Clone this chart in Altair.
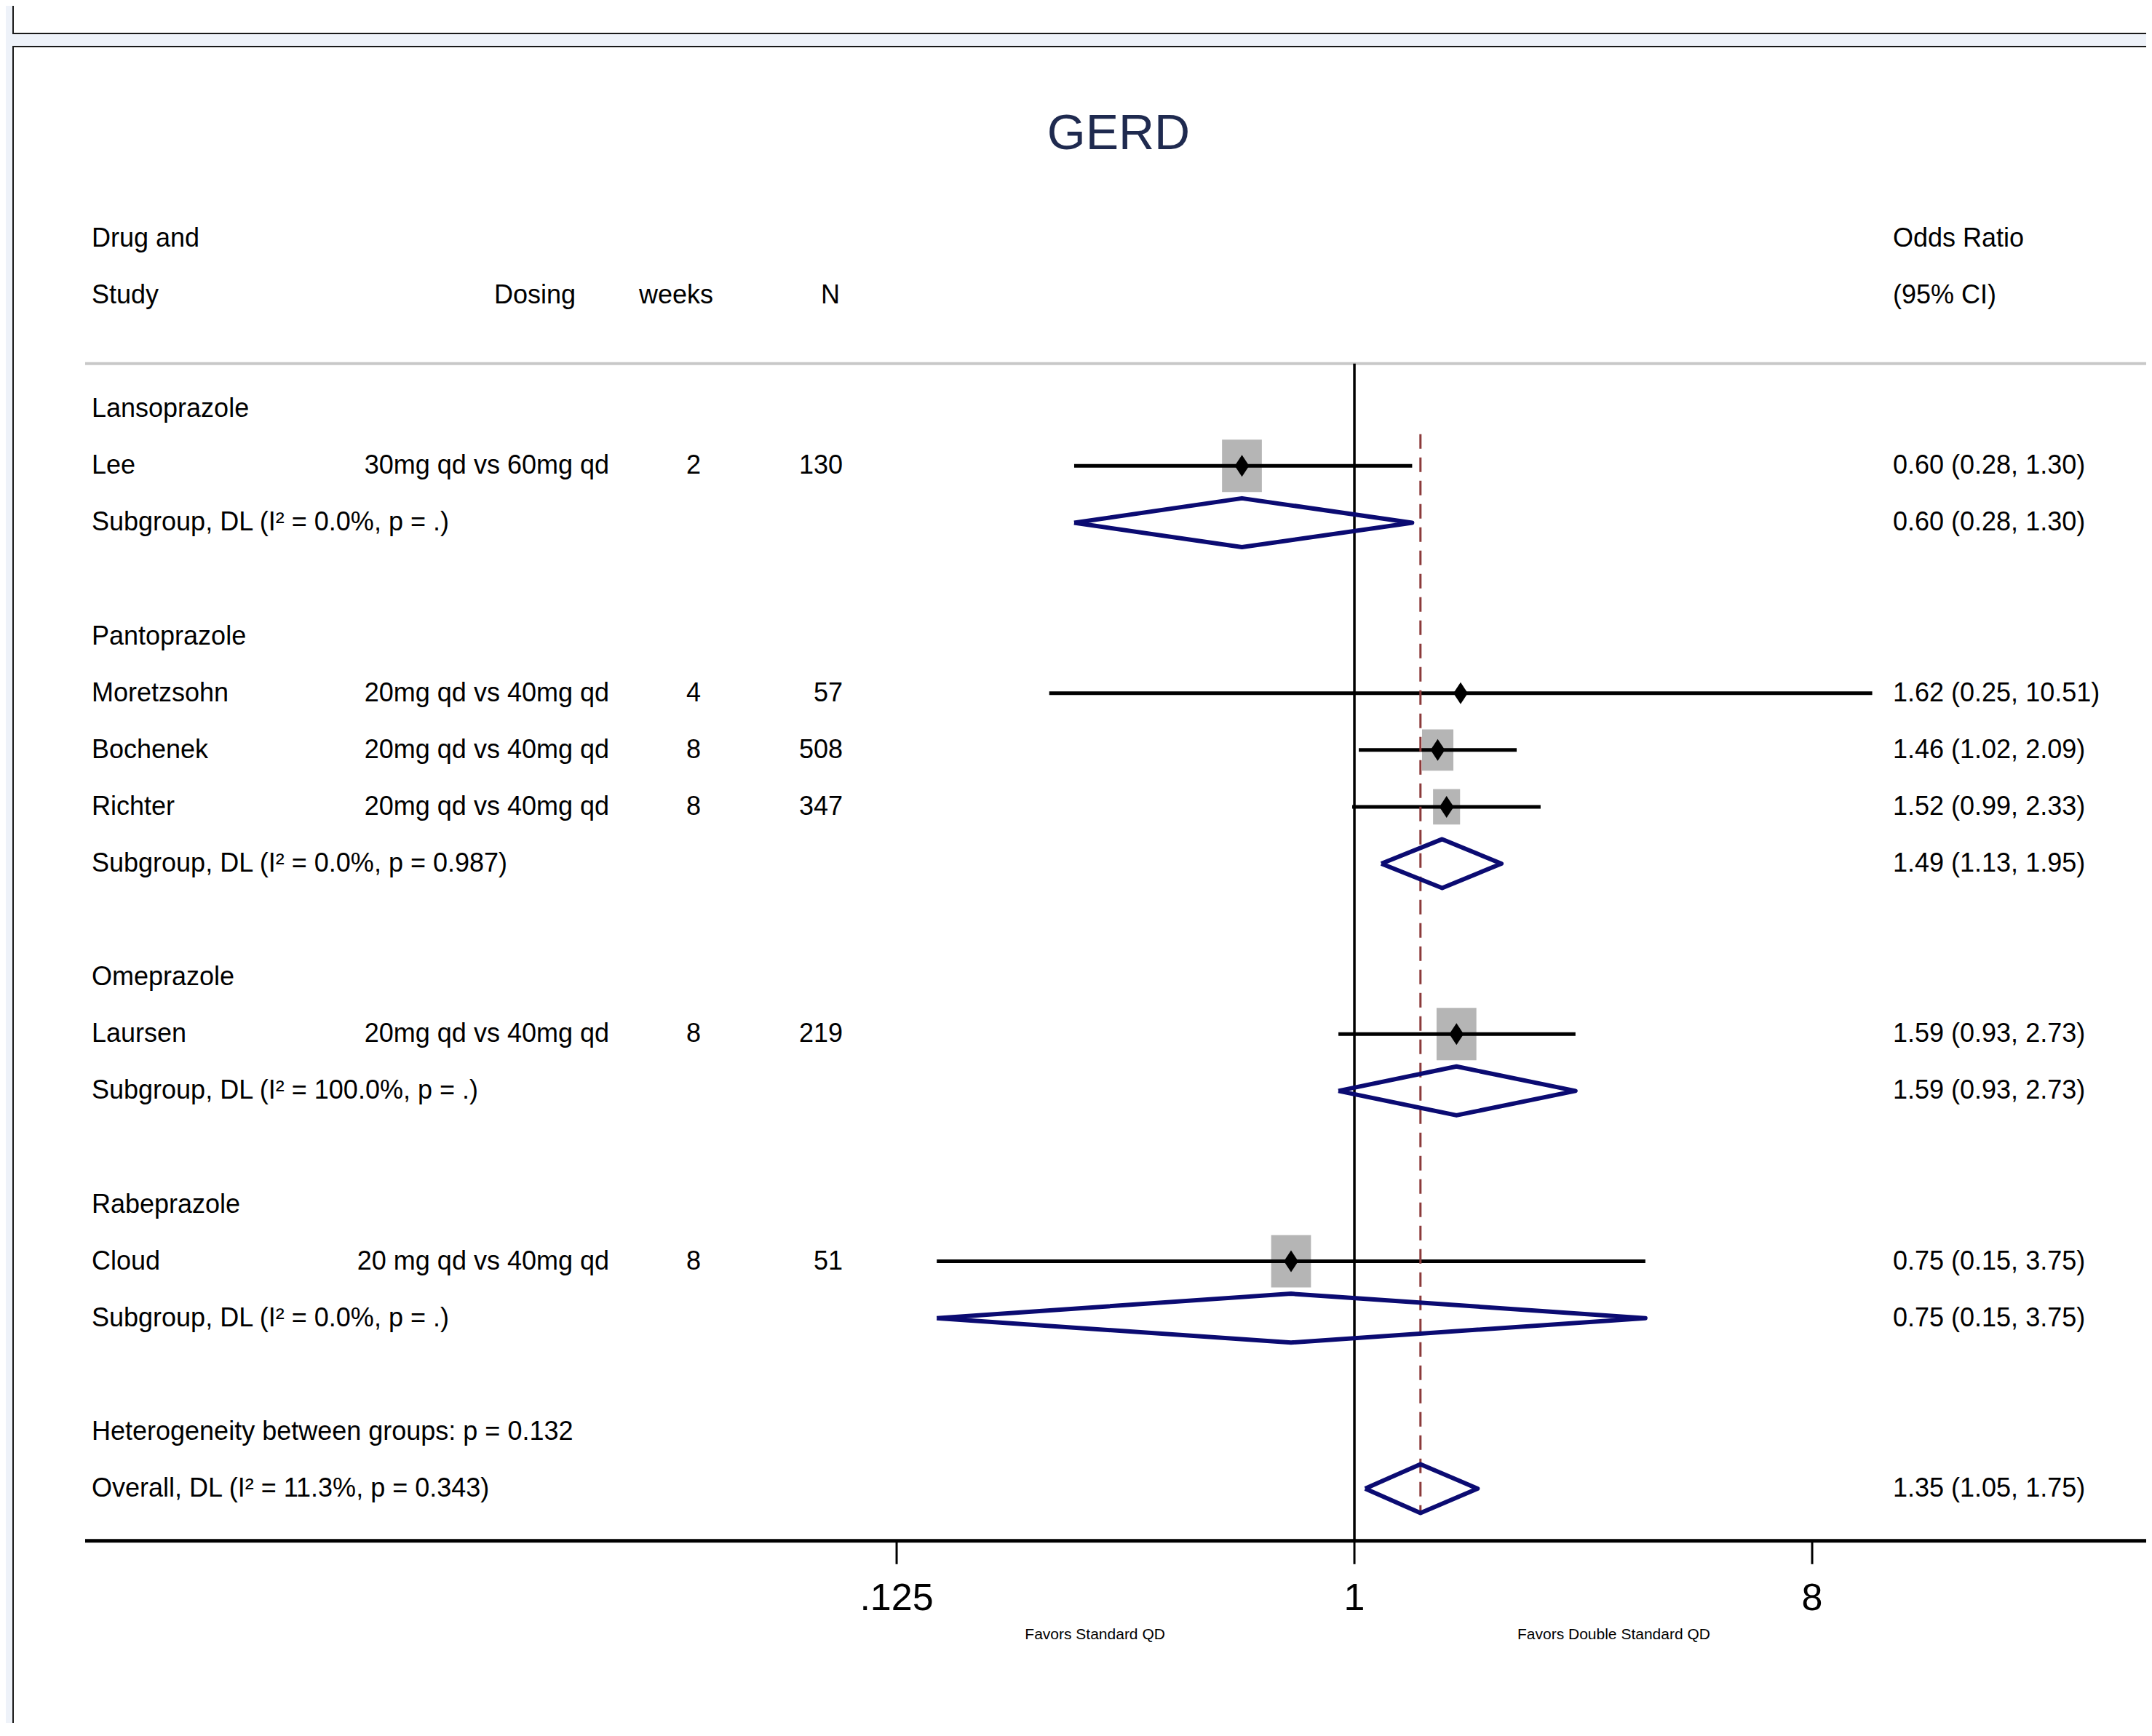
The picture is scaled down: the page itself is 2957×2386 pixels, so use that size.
import altair as alt
import pandas as pd
import numpy as np

# ---------------- data ----------------
groups = ["Lansoprazole", "Pantoprazole", "Omeprazole", "Rabeprazole"]
study_names = ["Lee", "Moretzsohn", "Bochenek", "Richter", "Laursen", "Cloud"]
study_group = [0, 1, 1, 1, 2, 3]
dosing = ["30mg qd vs 60mg qd", "20mg qd vs 40mg qd", "20mg qd vs 40mg qd",
          "20mg qd vs 40mg qd", "20mg qd vs 40mg qd", "20 mg qd vs 40mg qd"]
weeks = [2, 4, 8, 8, 8, 8]
n_pat = [130, 57, 508, 347, 219, 51]
or_est = [0.60, 1.62, 1.46, 1.52, 1.59, 0.75]
or_lo = [0.28, 0.25, 1.02, 0.99, 0.93, 0.15]
or_hi = [1.30, 10.51, 2.09, 2.33, 2.73, 3.75]
box_weight = [100, 2, 62, 46, 100, 100]

sub_est = [0.60, 1.49, 1.59, 0.75]
sub_lo = [0.28, 1.13, 0.93, 0.15]
sub_hi = [1.30, 1.95, 2.73, 3.75]
sub_i2 = ["0.0%", "0.0%", "100.0%", "0.0%"]
sub_p = [".", "0.987", ".", "."]

overall_est, overall_lo, overall_hi = 1.35, 1.05, 1.75
overall_i2, overall_p = "11.3%", "0.343"
het_p = "0.132"

tick_values = [0.125, 1, 8]
tick_labels = [".125", "1", "8"]
favors_labels = ["Favors Standard QD", "Favors Double Standard QD"]

title_text = "GERD"
header_top = ["Drug and", "Odds Ratio"]
header_bottom = ["Study", "Dosing", "weeks", "N", "(95% CI)"]

# ---------------- layout constants ----------------
W, H = 2941, 2360
FONT = "Liberation Sans, Arial, Helvetica, sans-serif"
FS = 36
NAVY = "#0b0b72"
xs = alt.Scale(domain=[-8.838, 5.189], nice=False, zero=False)
ys = alt.Scale(domain=[-4.098, 26.124], nice=False, zero=False, reverse=True)
HEADER_LINE_ROW = 2.2
AXIS_ROW = 22.92
TICK_END_ROW = 23.33
TICK_LABEL_ROW = 23.93
FAVOR_ROW = 24.57
FAVOR_OFFSET = 1.7
DIA_H = 0.43

# ---------------- row assignment ----------------
r = 3
group_rows, study_rows, sub_rows = [], [None] * len(study_names), []
for g in range(len(groups)):
    group_rows.append(r); r += 1
    for i, sg in enumerate(study_group):
        if sg == g:
            study_rows[i] = r; r += 1
    sub_rows.append(r); r += 1
    r += 1
het_row, overall_row = r, r + 1

fmt = lambda e, l, h: f"{e:.2f} ({l:.2f}, {h:.2f})"

studies = pd.DataFrame({
    "row": study_rows, "name": study_names, "dosing": dosing,
    "weeks": [str(w) for w in weeks], "n": [str(v) for v in n_pat],
    "l2": np.log2(or_est), "lo2": np.log2(or_lo), "hi2": np.log2(or_hi),
    "w": box_weight,
    "ci": [fmt(e, l, h) for e, l, h in zip(or_est, or_lo, or_hi)],
})

left_text = pd.DataFrame({
    "row": [0, 1] + group_rows + study_rows + sub_rows + [het_row, overall_row],
    "text": [header_top[0], header_bottom[0]] + groups + study_names
            + [f"Subgroup, DL (I\u00b2 = {i2}, p = {p})" for i2, p in zip(sub_i2, sub_p)]
            + [f"Heterogeneity between groups: p = {het_p}",
               f"Overall, DL (I\u00b2 = {overall_i2}, p = {overall_p})"],
})

right_text = pd.DataFrame({
    "row": [0, 1] + study_rows + sub_rows + [overall_row],
    "text": [header_top[1], header_bottom[4]] + list(studies["ci"])
            + [fmt(e, l, h) for e, l, h in zip(sub_est, sub_lo, sub_hi)]
            + [fmt(overall_est, overall_lo, overall_hi)],
})

# diamonds (subgroups + overall)
d_est = sub_est + [overall_est]
d_lo = sub_lo + [overall_lo]
d_hi = sub_hi + [overall_hi]
d_row = sub_rows + [overall_row]
recs = []
for k, (e, l, h, rr) in enumerate(zip(d_est, d_lo, d_hi, d_row)):
    pts = [(np.log2(l), rr), (np.log2(e), rr - DIA_H), (np.log2(h), rr),
           (np.log2(e), rr + DIA_H), (np.log2(l), rr)]
    for j, (px, py) in enumerate(pts):
        recs.append({"id": k, "k": j, "x": px, "row": py})
diamonds = pd.DataFrame(recs)

ticks = pd.DataFrame({"l2": np.log2(tick_values), "text": tick_labels,
                      "row": AXIS_ROW, "row2": TICK_END_ROW, "lrow": TICK_LABEL_ROW})
favors = pd.DataFrame({"l2": [-FAVOR_OFFSET, FAVOR_OFFSET], "text": favors_labels,
                       "row": FAVOR_ROW})

one = pd.DataFrame({"a": [0]})

# ---------------- frame (window chrome) ----------------
LIGHT = "#eef2f9"
DARK = "#1a1a1a"
def frame_rect(x1, x2, y1, y2, color):
    return alt.Chart(one).mark_rect(color=color, opacity=1).encode(
        x=alt.value(x1), x2=alt.value(x2), y=alt.value(y1), y2=alt.value(y2))

frame = [
    frame_rect(0, 9, 0, H, LIGHT),
    frame_rect(0, W, 39, 55, LIGHT),
    frame_rect(9, W, 37, 39, DARK),
    frame_rect(9, W, 55, 57, DARK),
    frame_rect(9, 11, 0, 37, DARK),
    frame_rect(9, 11, 57, H, DARK),
]

# ---------------- plot layers ----------------
hline = pd.DataFrame({"row": [HEADER_LINE_ROW, AXIS_ROW]})
header_line = alt.Chart(hline.iloc[[0]]).mark_rule(color="#c8c8c8", strokeWidth=4).encode(
    x=alt.value(109), x2=alt.value(W), y=alt.Y("row:Q", scale=ys, axis=None))
axis_line = alt.Chart(hline.iloc[[1]]).mark_rule(color="black", strokeWidth=5).encode(
    x=alt.value(109), x2=alt.value(W), y=alt.Y("row:Q", scale=ys, axis=None))

null_line = alt.Chart(pd.DataFrame({"l2": [0.0], "r1": [HEADER_LINE_ROW], "r2": [AXIS_ROW]})).mark_rule(
    color="black", strokeWidth=3.5).encode(
    x=alt.X("l2:Q", scale=xs, axis=None), y=alt.Y("r1:Q", scale=ys, axis=None), y2="r2:Q")

overall_line = alt.Chart(pd.DataFrame({
    "l2": [np.log2(overall_est)], "r1": [study_rows[0] - 0.56], "r2": [overall_row + DIA_H]})
).mark_rule(color="#8b3a3a", strokeWidth=3, strokeDash=[20, 12]).encode(
    x=alt.X("l2:Q", scale=xs, axis=None), y=alt.Y("r1:Q", scale=ys, axis=None), y2="r2:Q")

boxes = alt.Chart(studies).mark_point(
    shape="M-0.76,-1L0.76,-1L0.76,1L-0.76,1Z", filled=True, opacity=1,
    color="#b5b5b5", strokeWidth=0).encode(
    x=alt.X("l2:Q", scale=xs, axis=None), y=alt.Y("row:Q", scale=ys, axis=None),
    size=alt.Size("w:Q", scale=alt.Scale(domain=[0, 100], range=[0, 5184]), legend=None))

ci = alt.Chart(studies).mark_rule(color="black", strokeWidth=5).encode(
    x=alt.X("lo2:Q", scale=xs, axis=None), x2="hi2:Q",
    y=alt.Y("row:Q", scale=ys, axis=None))

pts = alt.Chart(studies).mark_point(
    shape="M0,-1L0.66,0L0,1L-0.66,0Z", filled=True, opacity=1,
    color="black", strokeWidth=0, size=900).encode(
    x=alt.X("l2:Q", scale=xs, axis=None), y=alt.Y("row:Q", scale=ys, axis=None))

dia = alt.Chart(diamonds).mark_line(color=NAVY, strokeWidth=6, strokeJoin="round").encode(
    x=alt.X("x:Q", scale=xs, axis=None), y=alt.Y("row:Q", scale=ys, axis=None),
    detail="id:N", order="k:Q")

tick_marks = alt.Chart(ticks).mark_rule(color="black", strokeWidth=3).encode(
    x=alt.X("l2:Q", scale=xs, axis=None), y=alt.Y("row:Q", scale=ys, axis=None), y2="row2:Q")
tick_text = alt.Chart(ticks).mark_text(font=FONT, fontSize=52, baseline="middle", align="center").encode(
    x=alt.X("l2:Q", scale=xs, axis=None), y=alt.Y("lrow:Q", scale=ys, axis=None), text="text:N")
favor_text = alt.Chart(favors).mark_text(font=FONT, fontSize=21, baseline="middle", align="center").encode(
    x=alt.X("l2:Q", scale=xs, axis=None), y=alt.Y("row:Q", scale=ys, axis=None), text="text:N")

def txt(df, field, xpx, align):
    return alt.Chart(df).mark_text(font=FONT, fontSize=FS, baseline="middle", align=align,
                                   color="black").encode(
        x=alt.value(xpx), y=alt.Y("row:Q", scale=ys, axis=None), text=f"{field}:N")

hdr = pd.DataFrame({"row": [1, 1, 1], "text": header_bottom[1:4]})

texts = [
    txt(left_text, "text", 118, "left"),
    txt(studies, "dosing", 829, "right"),
    txt(studies, "weeks", 955, "right"),
    txt(studies, "n", 1150, "right"),
    txt(hdr.iloc[[0]], "text", 783, "right"),
    txt(hdr.iloc[[1]], "text", 972, "right"),
    txt(hdr.iloc[[2]], "text", 1146, "right"),
    txt(right_text, "text", 2593, "left"),
]

title = alt.Chart(pd.DataFrame({"text": [title_text]})).mark_text(
    font=FONT, fontSize=68, color="#1f2a4f", align="center", baseline="middle").encode(
    x=alt.value(1529), y=alt.value(177), text="text:N")

chart = alt.layer(
    *frame, header_line, axis_line, null_line, boxes, ci, overall_line, pts, dia,
    tick_marks, tick_text, favor_text, *texts, title
).properties(
    width=W, height=H, background="white", padding=0,
    autosize=alt.AutoSizeParams(type="none"),
).configure_view(stroke=None)

chart.save("out.html", embed_options={"renderer": "svg", "actions": False})
